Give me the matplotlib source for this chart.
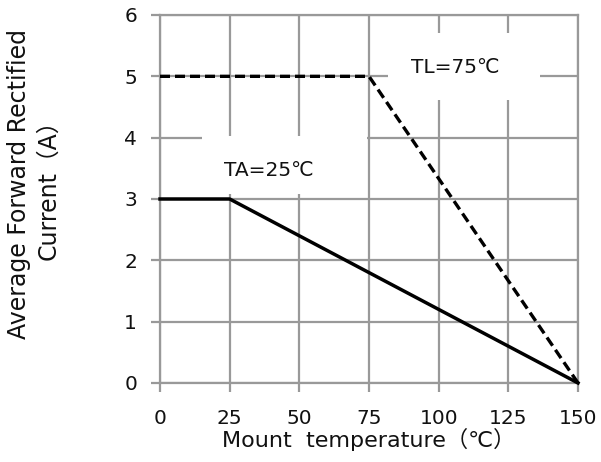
import matplotlib
matplotlib.use('Agg')
import matplotlib.pyplot as plt
from matplotlib.patches import Rectangle

plt.rcParams['font.family'] = ['DejaVu Sans', 'Noto Sans CJK SC']

# derating curves: mount temperature (C) vs current (A)
ta_temp = [0, 25, 150]
ta_current = [3, 3, 0]
tl_temp = [0, 75, 150]
tl_current = [5, 5, 0]

x_ticks = [0, 25, 50, 75, 100, 125, 150]
y_ticks = [0, 1, 2, 3, 4, 5, 6]

ta_label = 'TA=25℃'
tl_label = 'TL=75℃'
x_label = 'Mount  temperature（℃）'
y_label = 'Average Forward Rectified\nCurrent（A）'

grid_col = '#999999'
text_col = '#111111'

fig = plt.figure(figsize=(6.01, 4.62), dpi=100)
ax = fig.add_axes([160/601, (462-383)/462, 418/601, 368/462])

ax.set_xlim(0, 150)
ax.set_ylim(0, 6)
ax.set_xticks(x_ticks)
ax.set_yticks(y_ticks)
ax.grid(True, color=grid_col, linewidth=1.6, zorder=0)
ax.set_axisbelow(True)
for s in ax.spines.values():
    s.set_color(grid_col)
    s.set_linewidth(1.6)
    s.set_zorder(0.5)
ax.tick_params(axis='both', direction='out', length=6.5, width=1.6, color=grid_col,
               labelsize=14.5, labelcolor=text_col)
ax.tick_params(axis='x', pad=12)
ax.tick_params(axis='y', pad=10)

# white boxes behind the labels (they cut the grid)
ax.add_patch(Rectangle((15.1, 3.08), 59.2, 0.95, facecolor='white', edgecolor='none', zorder=1))
ax.add_patch(Rectangle((81.8, 4.61), 54.6, 1.1, facecolor='white', edgecolor='none', zorder=1))

ax.plot(ta_temp, ta_current, color='black', linewidth=2.5, zorder=3, clip_on=False)
ax.plot(tl_temp, tl_current, color='black', linewidth=2.4, linestyle=(0, (3.0, 1.5)),
        zorder=3, clip_on=False)

ax.text(39.1, 3.47, ta_label, ha='center', va='center', fontsize=14.5, color=text_col, zorder=4)
ax.text(105.9, 5.15, tl_label, ha='center', va='center', fontsize=14.5, color=text_col, zorder=4)

ax.set_xlabel(x_label, fontsize=16, color=text_col, labelpad=0)
fig.text(34/601, 1 - 184/462, y_label, rotation=90, ha='center', va='center',
         multialignment='center', fontsize=17, color=text_col, linespacing=1.3)

fig.savefig('out.png', dpi=100)
